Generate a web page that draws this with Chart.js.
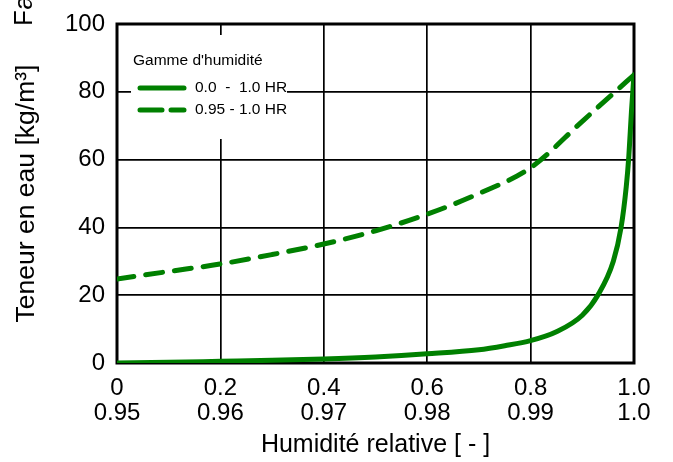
<!DOCTYPE html>
<html>
<head>
<meta charset="utf-8">
<script src="https://cdn.jsdelivr.net/npm/chart.js@4/dist/chart.umd.min.js"></script>
<style>
  html, body { margin: 0; padding: 0; background: #fff; }
  #wrap { width: 673px; height: 462px; }
</style>
</head>
<body>
<div id="wrap"><canvas id="c" width="673" height="462"></canvas></div>
<script>
// 0.0 - 1.0 HR (axe du haut)
const rhFull = [0, 0.1, 0.2, 0.3, 0.4, 0.5, 0.6, 0.7, 0.75, 0.8, 0.85, 0.9, 0.93, 0.96, 0.975, 0.985, 0.99, 0.995, 1.0];
const waterFull = [0, 0.2, 0.5, 0.8, 1.2, 1.8, 2.7, 3.9, 5.1, 6.6, 9.2, 14.1, 20, 30, 40, 52, 61, 74, 85];

// 0.95 - 1.0 HR (axe du bas)
const rhZoom = [0.95, 0.955, 0.96, 0.965, 0.97, 0.975, 0.98, 0.985, 0.99, 0.995, 1.0];
const waterZoom = [24.8, 27, 29.2, 32, 35.1, 39, 43.9, 50, 57.6, 71.3, 85];

const xTickValues = [0, 0.2, 0.4, 0.6, 0.8, 1.0];
const xTickLabels = ["0", "0.2", "0.4", "0.6", "0.8", "1.0"];
const x2TickValues = [0.95, 0.96, 0.97, 0.98, 0.99, 1.0];
const x2TickLabels = ["0.95", "0.96", "0.97", "0.98", "0.99", "1.0"];

const legendTitle = "Gamme d'humidité";
const seriesNames = ["0.0  -  1.0 HR", "0.95 - 1.0 HR"];

const GREEN = "#008000";
const FONT = "'Liberation Sans', Arial, sans-serif";

const frame = {
    id: "frame",
    beforeDatasetsDraw(chart) {
        const { ctx, chartArea: a } = chart;
        ctx.save();
        ctx.strokeStyle = "#000";
        ctx.lineWidth = 3;
        ctx.strokeRect(a.left, a.top, a.right - a.left, a.bottom - a.top);
        ctx.restore();
    },
    afterDraw(chart) {
        const ctx = chart.ctx;
        ctx.save();
        // boite de legende
        ctx.fillStyle = "#fff";
        ctx.fillRect(131, 35, 156, 104);
        ctx.fillStyle = "#000";
        ctx.font = "15.5px " + FONT;
        ctx.textBaseline = "middle";
        ctx.textAlign = "left";
        ctx.fillText(legendTitle, 133, 61);
        ctx.strokeStyle = GREEN;
        ctx.lineWidth = 5;
        ctx.lineCap = "round";
        ctx.beginPath();
        ctx.moveTo(140, 88); ctx.lineTo(184, 88);
        ctx.stroke();
        ctx.beginPath();
        ctx.moveTo(140, 110); ctx.lineTo(162, 110);
        ctx.moveTo(171, 110); ctx.lineTo(184, 110);
        ctx.stroke();
        ctx.fillText(seriesNames[0], 195, 88);
        ctx.fillText(seriesNames[1], 195, 110);

        // titre coupe en haut a gauche
        ctx.font = "26px " + FONT;
        ctx.translate(25, 26);
        ctx.rotate(-Math.PI / 2);
        ctx.textAlign = "left";
        ctx.fillText("Facteur", 0, 0);
        ctx.restore();
    }
};

new Chart(document.getElementById("c"), {
    type: "line",
    data: {
        datasets: [
            {
                label: seriesNames[0],
                data: rhFull.map((x, i) => ({ x: x, y: waterFull[i] })),
                xAxisID: "x",
                borderColor: GREEN,
                borderWidth: 5,
                pointRadius: 0,
                cubicInterpolationMode: "monotone",
                borderCapStyle: "round"
            },
            {
                label: seriesNames[1],
                data: rhZoom.map((x, i) => ({ x: x, y: waterZoom[i] })),
                xAxisID: "x2",
                borderColor: GREEN,
                borderWidth: 5,
                borderDash: [17, 12],
                borderCapStyle: "round",
                pointRadius: 0,
                cubicInterpolationMode: "monotone"
            }
        ]
    },
    options: {
        responsive: false,
        animation: false,
        layout: { padding: { left: 0, right: 39, top: 22, bottom: 0 } },
        plugins: { legend: { display: false }, tooltip: { enabled: false } },
        scales: {
            x: {
                type: "linear", position: "bottom", weight: 0,
                min: 0, max: 1,
                afterBuildTicks: s => { s.ticks = xTickValues.map(v => ({ value: v })); },
                afterFit: s => { s.height = 37; },
                grid: { color: "#000", lineWidth: 1.7, drawTicks: false },
                border: { display: false },
                ticks: {
                    color: "#000", padding: 13, maxRotation: 0, autoSkip: false,
                    font: { family: FONT, size: 24, lineHeight: 1 },
                    callback: (v, i) => xTickLabels[i]
                }
            },
            x2: {
                type: "linear", position: "bottom", weight: 1,
                min: 0.95, max: 1.0,
                afterBuildTicks: s => { s.ticks = x2TickValues.map(v => ({ value: v })); },
                afterFit: s => { s.height = 62; },
                grid: { display: false, drawTicks: false },
                border: { display: false },
                ticks: {
                    color: "#000", padding: 1, maxRotation: 0, autoSkip: false,
                    font: { family: FONT, size: 24, lineHeight: 1 },
                    callback: (v, i) => x2TickLabels[i]
                },
                title: {
                    display: true, text: "Humidité relative [ - ]", color: "#000",
                    font: { family: FONT, size: 25 }, padding: { top: 0, bottom: 2 }
                }
            },
            y: {
                min: 0, max: 100,
                ticks: {
                    stepSize: 20, color: "#000", padding: 12,
                    font: { family: FONT, size: 24, lineHeight: 1 }
                },
                afterFit: s => { s.width = 117; },
                grid: { color: "#000", lineWidth: 1.7, drawTicks: false },
                border: { display: false },
                title: {
                    display: true, text: "Teneur en eau [kg/m³]", color: "#000",
                    font: { family: FONT, size: 26.5 }, padding: { top: 11, bottom: 0 }
                }
            }
        }
    },
    plugins: [frame]
});
</script>
</body>
</html>
